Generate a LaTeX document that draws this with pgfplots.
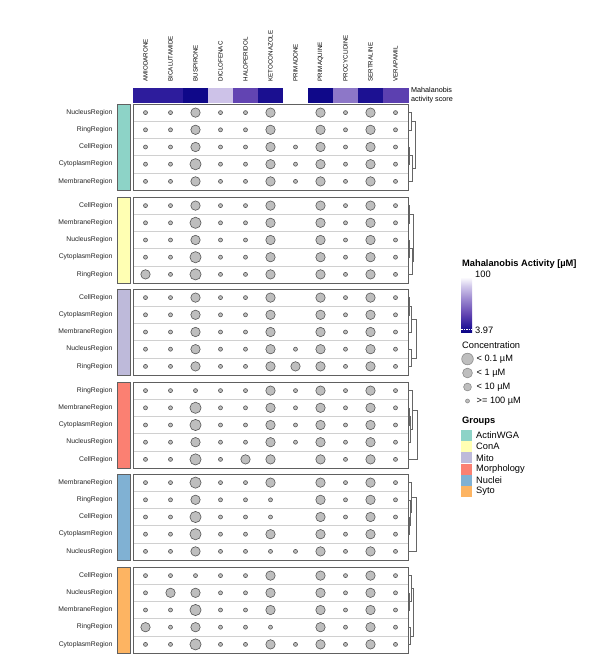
\documentclass[border=0pt]{standalone}
\usepackage{fontspec}
\setmainfont{Liberation Sans}
\usepackage{pgfplots}
\usepackage{pgfplotstable}
\pgfplotsset{compat=1.18}

\definecolor{dotfill}{HTML}{BEBEBE}
\definecolor{dotline}{HTML}{555555}
\definecolor{gridc}{HTML}{D0D0D0}
\definecolor{boxc}{HTML}{606060}
\definecolor{cActin}{HTML}{8DD3C7}
\definecolor{cConA}{HTML}{FFFFB3}
\definecolor{cMito}{HTML}{BEBADA}
\definecolor{cMorph}{HTML}{FB8072}
\definecolor{cNuclei}{HTML}{80B1D3}
\definecolor{cSyto}{HTML}{FDB462}
\definecolor{hm1}{RGB}{12,6,135}
\definecolor{hm2}{RGB}{42,26,155}
\definecolor{hm3}{RGB}{98,68,178}
\definecolor{hm4}{RGB}{152,132,206}
\definecolor{hm5}{RGB}{212,203,236}

\pgfdeclareverticalshading{mahal}{100bp}{color(0bp)=(hm1); color(25bp)=(hm1);
  color(30.7bp)=(hm2); color(41.2bp)=(hm3); color(54.2bp)=(hm4);
  color(67.2bp)=(hm5); color(75bp)=(white); color(100bp)=(white)}

% size codes: 0 = none, 1 = >=100 uM, 2 = <10 uM, 3 = <1 uM, 4 = <0.1 uM
% columns: AMI BIC BUS DIC HAL KET PRIMADONE PRIMAQ PROC SERT VER
\pgfplotstableread{
r c0 c1 c2 c3 c4 c5 c6 c7 c8 c9 c10
0 1 1 3 1 1 3 0 3 1 3 1
1 1 1 3 1 1 3 0 3 1 3 1
2 1 1 3 1 1 3 1 3 1 3 1
3 1 1 4 1 1 3 1 3 1 3 1
4 1 1 3 1 1 3 1 3 1 3 1
}\gActin
\pgfplotstableread{
r c0 c1 c2 c3 c4 c5 c6 c7 c8 c9 c10
0 1 1 3 1 1 3 0 3 1 3 1
1 1 1 4 1 1 3 0 3 1 3 1
2 1 1 3 1 1 3 0 3 1 3 1
3 1 1 4 1 1 3 0 3 1 3 1
4 3 1 4 1 1 3 0 3 1 3 1
}\gConA
\pgfplotstableread{
r c0 c1 c2 c3 c4 c5 c6 c7 c8 c9 c10
0 1 1 3 1 1 3 0 3 1 3 1
1 1 1 3 1 1 3 0 3 1 3 1
2 1 1 3 1 1 3 0 3 1 3 1
3 1 1 3 1 1 3 1 3 1 3 1
4 1 1 3 1 1 3 3 3 1 3 1
}\gMito
\pgfplotstableread{
r c0 c1 c2 c3 c4 c5 c6 c7 c8 c9 c10
0 1 1 1 1 1 3 1 3 1 3 1
1 1 1 4 1 1 3 1 3 1 3 1
2 1 1 4 1 1 3 1 3 1 3 1
3 1 1 3 1 1 3 1 3 1 3 1
4 1 1 4 1 3 3 0 3 1 3 1
}\gMorph
\pgfplotstableread{
r c0 c1 c2 c3 c4 c5 c6 c7 c8 c9 c10
0 1 1 4 1 1 3 0 3 1 3 1
1 1 1 3 1 1 1 0 3 1 3 1
2 1 1 4 1 1 1 0 3 1 3 1
3 1 1 4 1 1 3 0 3 1 3 1
4 1 1 3 1 1 1 1 3 1 3 1
}\gNuclei
\pgfplotstableread{
r c0 c1 c2 c3 c4 c5 c6 c7 c8 c9 c10
0 1 1 1 1 1 3 0 3 1 3 1
1 1 3 3 1 1 3 0 3 1 3 1
2 1 1 4 1 1 3 0 3 1 3 1
3 3 1 3 1 1 1 0 3 1 3 1
4 1 1 4 1 1 3 1 3 1 3 1
}\gSyto

\pgfplotsset{
  grp/.style={
    width=275pt, height=86pt, scale only axis, anchor=north west,
    xmin=-0.5, xmax=10.5, ymin=-0.5, ymax=4.5, y dir=reverse,
    xtick=\empty, ytick={0,...,4},
    minor xtick={0.5,1.5,...,9.5}, minor ytick={0.5,1.5,2.5,3.5},
    xminorgrids=true, yminorgrids=true,
    minor grid style={gridc, line width=0.5pt},
    major tick length=0pt, minor tick length=0pt,
    axis line style={boxc, line width=0.8pt},
    yticklabel style={font=\fontsize{6.8}{8}\selectfont, xshift=-17pt, text=black!85},
    clip=false,
  },
  dots/.style={scatter, only marks, mark=*,
    scatter/use mapped color={draw=dotline, fill=dotfill},
    mark options={line width=0.6pt},
    scatter/@pre marker code/.append style={/tikz/mark size={\sz<1.5 ? 2 : 2+0.9*\sz}},
  },
  dendro/.style={draw=black!60, line width=0.6pt, mark=none},
}

\newcommand\dotplots[1]{%
  \pgfplotsinvokeforeach{0,...,10}{%
    \addplot[dots, visualization depends on={\thisrow{c##1} \as \sz}]
      table[x expr=##1, y=r, restrict expr to domain={\thisrow{c##1}}{0.5:9}] {#1};
  }%
}

% #1 top (px), #2 table, #3 row labels, #4 group colour, #5 dendrogram
\newcommand\grp[5]{%
  \begin{axis}[grp, at={(133pt,-#1pt)}, yticklabels={#3}]
    \addplot[fill=#4, draw=boxc, line width=0.6pt]
      coordinates {(-1.14,-0.5) (-0.62,-0.5) (-0.62,4.5) (-1.14,4.5)} -- cycle;
    \dotplots{#2}
    #5
  \end{axis}%
}

\begin{document}
\begin{tikzpicture}
\useasboundingbox (0,0) rectangle (602pt,-667pt);

% column annotation: Mahalanobis activity score
\begin{axis}[at={(133pt,-88pt)}, anchor=north west, width=275pt, height=14pt,
    scale only axis, xmin=-0.5, xmax=10.5, ymin=0, ymax=1,
    axis line style={draw=none}, ytick=\empty,
    xtick={0,...,10}, xticklabel pos=right, major tick length=0pt,
    xticklabel shift=3pt,
    xticklabels={AMIODARONE,BICALUTAMIDE,BUSPIRONE,DICLOFENAC,HALOPERIDOL,KETOCONAZOLE,PRIMADONE,PRIMAQUINE,PROCYCLIDINE,SERTRALINE,VERAPAMIL},
    xticklabel style={rotate=90, anchor=west, font=\fontsize{6.2}{7}\selectfont},
    colormap={mahal}{rgb255(0pt)=(12,6,135); rgb255(11.03pt)=(42,26,155);
      rgb255(31.03pt)=(98,68,178); rgb255(56.03pt)=(152,132,206);
      rgb255(81.03pt)=(212,203,236); rgb255(96.03pt)=(255,255,255)},
    point meta min=3.97, point meta max=100, clip=false]
  \addplot[scatter, only marks, mark=square*, mark size=7pt, point meta=explicit,
      scatter/use mapped color={draw=mapped color, fill=mapped color},
      mark options={xscale=1.786, line width=0.3pt}] coordinates {
    (0,0.5) [16] (1,0.5) [16] (2,0.5) [5] (3,0.5) [82] (4,0.5) [35] (5,0.5) [9]
    (6,0.5) [100] (7,0.5) [5] (8,0.5) [55] (9,0.5) [10] (10,0.5) [33]
  };
\end{axis}

\grp{104}{\gActin}{NucleusRegion,RingRegion,CellRegion,CytoplasmRegion,MembraneRegion}{cActin}{%
  \addplot[dendro] coordinates {(10.5,0) (10.62,0) (10.62,1) (10.5,1)};
  \addplot[dendro] coordinates {(10.5,2) (10.56,2) (10.56,3) (10.5,3)};
  \addplot[dendro] coordinates {(10.56,2.5) (10.66,2.5) (10.66,4) (10.5,4)};
  \addplot[dendro] coordinates {(10.62,0.5) (10.78,0.5) (10.78,3.25) (10.66,3.25)};}

\grp{197}{\gConA}{CellRegion,MembraneRegion,NucleusRegion,CytoplasmRegion,RingRegion}{cConA}{%
  \addplot[dendro] coordinates {(10.5,2) (10.548,2) (10.548,3) (10.5,3)};
  \addplot[dendro] coordinates {(10.548,2.5) (10.66,2.5) (10.66,4) (10.5,4)};
  \addplot[dendro] coordinates {(10.5,0) (10.56,0) (10.56,1) (10.5,1)};
  \addplot[dendro] coordinates {(10.56,0.5) (10.72,0.5) (10.72,3.25) (10.66,3.25)};}

\grp{289}{\gMito}{CellRegion,CytoplasmRegion,MembraneRegion,NucleusRegion,RingRegion}{cMito}{%
  \addplot[dendro] coordinates {(10.5,0) (10.56,0) (10.56,1) (10.5,1)};
  \addplot[dendro] coordinates {(10.56,0.5) (10.62,0.5) (10.62,2) (10.5,2)};
  \addplot[dendro] coordinates {(10.5,3) (10.62,3) (10.62,4) (10.5,4)};
  \addplot[dendro] coordinates {(10.62,1.25) (10.82,1.25) (10.82,3.5) (10.62,3.5)};}

\grp{382}{\gMorph}{RingRegion,MembraneRegion,CytoplasmRegion,NucleusRegion,CellRegion}{cMorph}{%
  \addplot[dendro] coordinates {(10.5,1) (10.54,1) (10.54,2) (10.5,2)};
  \addplot[dendro] coordinates {(10.54,1.5) (10.6,1.5) (10.6,3) (10.5,3)};
  \addplot[dendro] coordinates {(10.5,0) (10.66,0) (10.66,2.25) (10.6,2.25)};
  \addplot[dendro] coordinates {(10.66,1.125) (10.86,1.125) (10.86,4) (10.5,4)};}

\grp{474}{\gNuclei}{MembraneRegion,RingRegion,CellRegion,CytoplasmRegion,NucleusRegion}{cNuclei}{%
  \addplot[dendro] coordinates {(10.5,2) (10.56,2) (10.56,3) (10.5,3)};
  \addplot[dendro] coordinates {(10.5,1) (10.6,1) (10.6,2.5) (10.56,2.5)};
  \addplot[dendro] coordinates {(10.5,0) (10.64,0) (10.64,1.75) (10.6,1.75)};
  \addplot[dendro] coordinates {(10.64,0.875) (10.82,0.875) (10.82,4) (10.5,4)};}

\grp{567}{\gSyto}{CellRegion,NucleusRegion,MembraneRegion,RingRegion,CytoplasmRegion}{cSyto}{%
  \addplot[dendro] coordinates {(10.5,1) (10.56,1) (10.56,2) (10.5,2)};
  \addplot[dendro] coordinates {(10.5,0) (10.62,0) (10.62,1.5) (10.56,1.5)};
  \addplot[dendro] coordinates {(10.5,3) (10.58,3) (10.58,4) (10.5,4)};
  \addplot[dendro] coordinates {(10.62,0.75) (10.7,0.75) (10.7,3.5) (10.58,3.5)};}

% legends, in pixel coordinates of the page
\begin{axis}[at={(0pt,0pt)}, anchor=north west, width=602pt, height=667pt,
    scale only axis, xmin=0, xmax=602, ymin=0, ymax=667, y dir=reverse,
    hide axis, clip=false]
  \node[anchor=west, align=left, inner sep=1pt, font=\fontsize{7.2}{8.6}\selectfont]
    at (axis cs:410,95) {Mahalanobis\\activity score};
  \node[anchor=west, inner sep=1pt, font=\fontsize{9.3}{11}\selectfont\bfseries]
    at (axis cs:461,264) {Mahalanobis Activity [µM]};
  \shade[shading=mahal] (axis cs:461,277) rectangle (axis cs:472,332);
  \draw[white, dash pattern=on 1.5pt off 1pt, line width=0.6pt]
    (axis cs:461,329) -- (axis cs:472,329);
  \node[anchor=west, inner sep=1pt, font=\fontsize{9.3}{11}\selectfont] at (axis cs:474,274) {100};
  \node[anchor=west, inner sep=1pt, font=\fontsize{9.3}{11}\selectfont] at (axis cs:474,330) {3.97};
  \node[anchor=west, inner sep=1pt, font=\fontsize{9.3}{11}\selectfont] at (axis cs:461,345) {Concentration};
  \addplot[only marks, mark=*, mark size=5.8pt, mark options={draw=black!45, fill=dotfill, line width=0.6pt}] coordinates {(467.5,359)};
  \addplot[only marks, mark=*, mark size=4.9pt, mark options={draw=black!45, fill=dotfill, line width=0.6pt}] coordinates {(467.5,373)};
  \addplot[only marks, mark=*, mark size=3.9pt, mark options={draw=black!45, fill=dotfill, line width=0.6pt}] coordinates {(467.5,387)};
  \addplot[only marks, mark=*, mark size=2pt, mark options={draw=black!45, fill=dotfill, line width=0.6pt}] coordinates {(467.5,401)};
  \node[anchor=west, inner sep=1pt, font=\fontsize{9.2}{10}\selectfont] at (axis cs:475.5,359) {< 0.1 µM};
  \node[anchor=west, inner sep=1pt, font=\fontsize{9.2}{10}\selectfont] at (axis cs:475.5,373) {< 1 µM};
  \node[anchor=west, inner sep=1pt, font=\fontsize{9.2}{10}\selectfont] at (axis cs:475.5,387) {< 10 µM};
  \node[anchor=west, inner sep=1pt, font=\fontsize{9.2}{10}\selectfont] at (axis cs:475.5,401) {>= 100 µM};
  \node[anchor=west, inner sep=1pt, font=\fontsize{9.3}{11}\selectfont\bfseries] at (axis cs:461,421) {Groups};
  \addplot[fill=cActin, draw=none] coordinates {(461,430) (472,430) (472,441) (461,441)} -- cycle;
  \addplot[fill=cConA, draw=none] coordinates {(461,441.2) (472,441.2) (472,452.2) (461,452.2)} -- cycle;
  \addplot[fill=cMito, draw=none] coordinates {(461,452.4) (472,452.4) (472,463.4) (461,463.4)} -- cycle;
  \addplot[fill=cMorph, draw=none] coordinates {(461,463.6) (472,463.6) (472,474.6) (461,474.6)} -- cycle;
  \addplot[fill=cNuclei, draw=none] coordinates {(461,474.8) (472,474.8) (472,485.8) (461,485.8)} -- cycle;
  \addplot[fill=cSyto, draw=none] coordinates {(461,486) (472,486) (472,497) (461,497)} -- cycle;
  \node[anchor=west, inner sep=1pt, font=\fontsize{9.3}{11}\selectfont] at (axis cs:475,435.5) {ActinWGA};
  \node[anchor=west, inner sep=1pt, font=\fontsize{9.3}{11}\selectfont] at (axis cs:475,446.7) {ConA};
  \node[anchor=west, inner sep=1pt, font=\fontsize{9.3}{11}\selectfont] at (axis cs:475,457.9) {Mito};
  \node[anchor=west, inner sep=1pt, font=\fontsize{9.3}{11}\selectfont] at (axis cs:475,469.1) {Morphology};
  \node[anchor=west, inner sep=1pt, font=\fontsize{9.3}{11}\selectfont] at (axis cs:475,480.3) {Nuclei};
  \node[anchor=west, inner sep=1pt, font=\fontsize{9.3}{11}\selectfont] at (axis cs:475,491.5) {Syto};
\end{axis}
\end{tikzpicture}
\end{document}
